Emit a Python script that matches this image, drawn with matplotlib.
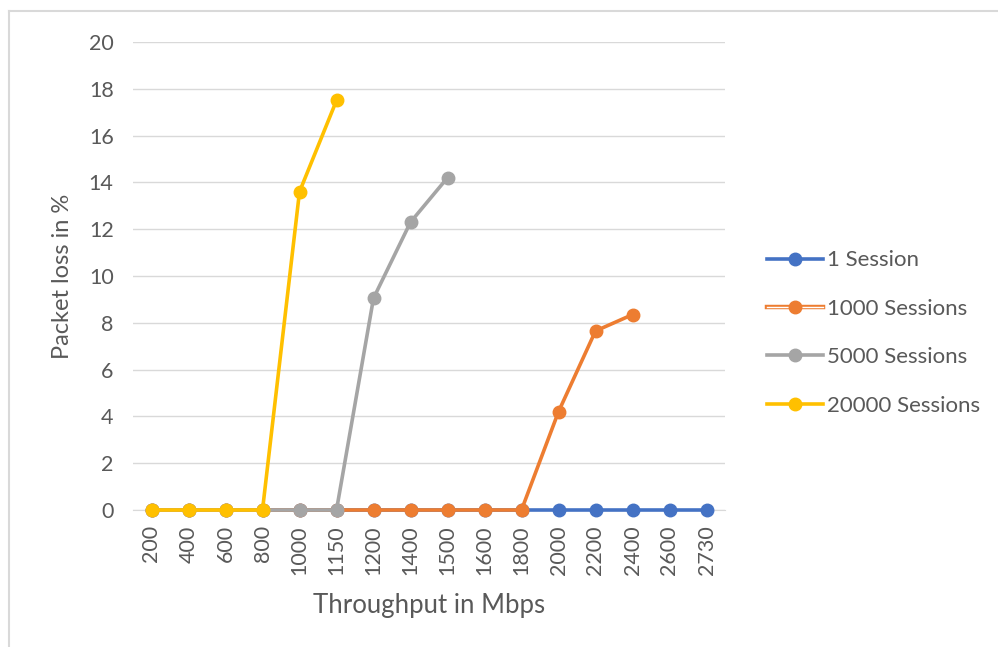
import numpy as np
import matplotlib.pyplot as plt
from matplotlib.lines import Line2D
from matplotlib.legend_handler import HandlerTuple

plt.rcParams['font.family'] = ['Lato', 'DejaVu Sans']

# throughput steps (categorical axis)
throughput = ['200', '400', '600', '800', '1000', '1150', '1200', '1400',
              '1500', '1600', '1800', '2000', '2200', '2400', '2600', '2730']

nan = np.nan
loss_1 = [0, 0, 0, 0, 0, 0, 0, 0, 0, 0, 0, 0, 0, 0, 0, 0]
loss_1000 = [0, 0, 0, 0, 0, 0, 0, 0, 0, 0, 0, 4.2, 7.65, 8.35, nan, nan]
loss_5000 = [0, 0, 0, 0, 0, 0, 9.05, 12.3, 14.2, nan, nan, nan, nan, nan, nan, nan]
loss_20000 = [0, 0, 0, 0, 13.6, 17.5, nan, nan, nan, nan, nan, nan, nan, nan, nan, nan]

series_names = ['1 Session', '1000 Sessions', '5000 Sessions', '20000 Sessions']
series_data = [loss_1, loss_1000, loss_5000, loss_20000]
colors = ['#4472C4', '#ED7D31', '#A5A5A5', '#FFC000']

txt = '#595959'
grid = '#D9D9D9'

fig = plt.figure(figsize=(9.98, 6.47), dpi=100)
ax = fig.add_axes([133/998, 1 - 510/647, 592/998, 468/647])

x = np.arange(len(throughput))
lines = []
for i, (name, ys, c) in enumerate(zip(series_names, series_data, colors)):
    ln, = ax.plot(x, ys, color=c, lw=2.6, marker='o', ms=9, mfc=c, mec=c,
                  label=name, zorder=3 + i, clip_on=False)
    lines.append(ln)

ax.set_xlim(-0.5, len(throughput) - 0.5)
ax.set_ylim(0, 20)
ax.set_yticks(range(0, 21, 2))
ax.set_xticks(x)
ax.set_xticklabels(throughput, rotation=90)
ax.tick_params(axis='both', length=0, labelsize=15.5, labelcolor=txt)
ax.tick_params(axis='y', pad=14)
ax.tick_params(axis='x', pad=11)
ax.grid(axis='y', color=grid, lw=1)
ax.set_axisbelow(True)
for s in ['top', 'right', 'left']:
    ax.spines[s].set_visible(False)
ax.spines['bottom'].set_color(grid)

ax.set_ylabel('Packet loss in %', fontsize=17, color=txt, labelpad=11)
ax.set_xlabel('Throughput in Mbps', fontsize=18.5, color=txt, labelpad=13)

# orange entry is an outlined line with the marker on top
orange_handle = (Line2D([], [], color=colors[1], lw=3.2),
                 Line2D([], [], color='white', lw=1.0),
                 Line2D([], [], ls='none', marker='o', ms=9, color=colors[1]))
handles = [lines[0], orange_handle, lines[2], lines[3]]
leg = fig.legend(handles, series_names, loc='center left',
                 bbox_to_anchor=(747/998, 1 - 333/647),
                 handler_map={tuple: HandlerTuple(ndivide=1)},
                 frameon=False, fontsize=16, labelspacing=1.28,
                 handlelength=2.5, handletextpad=0.22, labelcolor=txt)

# thin frame along the top and left edges
fig.add_artist(Line2D([9/998, 9/998], [0, 1 - 11/647], color='#D9D9D9', lw=1.5))
fig.add_artist(Line2D([9/998, 1], [1 - 11/647, 1 - 11/647], color='#D9D9D9', lw=1.5))

fig.savefig('out.png', dpi=100, facecolor='white')
